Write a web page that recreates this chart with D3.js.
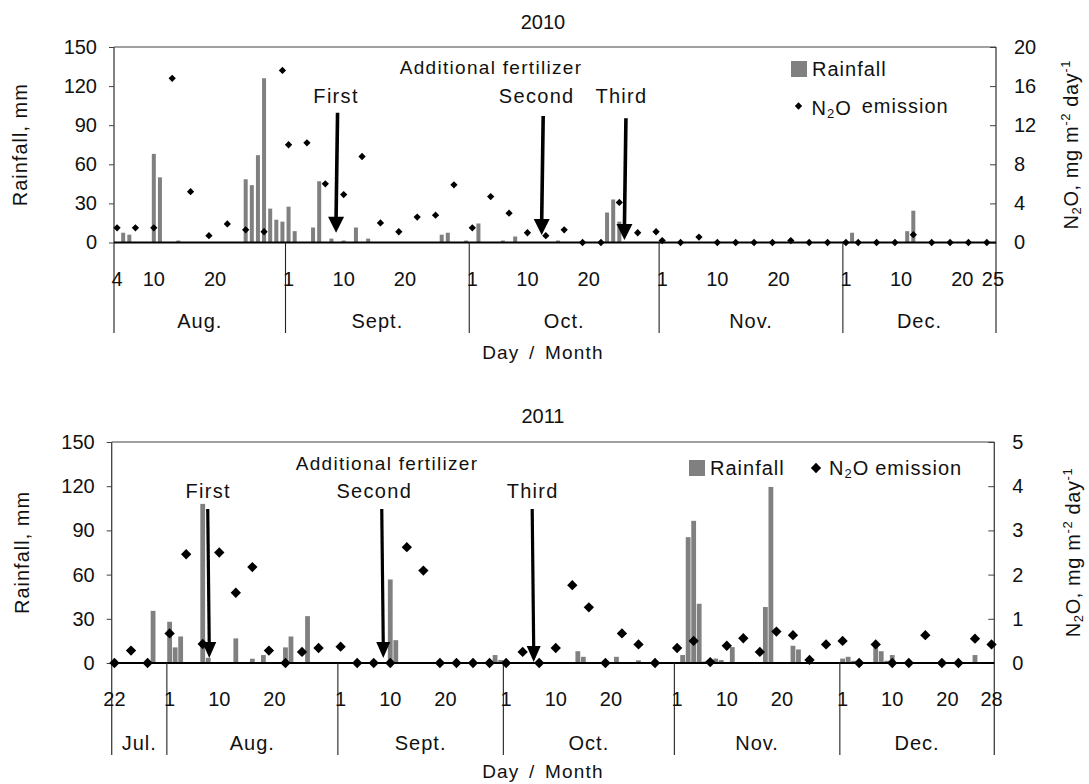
<!DOCTYPE html>
<html>
<head>
<meta charset="utf-8">
<script src="https://cdn.jsdelivr.net/npm/d3@7"></script>
<style>
  body { margin: 0; background: #fff; }
  svg text { font-family: 'Liberation Sans', Arial, sans-serif; fill: #111; }
</style>
</head>
<body>
<div id="chart"></div>
<script>
// ---- data ----
// 2010 rainfall (mm), by day
const rain2010Days = ['08-05','08-06','08-10','08-11','08-14','08-25','08-26','08-27','08-28','08-29','08-30','08-31',
  '09-01','09-02','09-05','09-06','09-08','09-10','09-12','09-14','09-26','09-27','09-30',
  '10-02','10-06','10-08','10-15','10-23','10-24','10-25','12-02','12-11','12-12'];
const rain2010 = [7.5,6,68,50,1.5,48.5,44,67,126,26,17.5,16,
  27.5,8.7,11.5,47,3,1.5,11.5,3,6,7.5,1.5,
  14.6,1.5,4.6,1.5,23,33,16,7.5,8.7,24.4];

// 2010 N2O emission (mg m-2 day-1)
const n2o2010Days = ['08-04','08-07','08-10','08-13','08-16','08-19','08-22','08-25','08-28','08-31',
  '09-01','09-04','09-07','09-10','09-13','09-16','09-19','09-22','09-25','09-28',
  '10-01','10-04','10-07','10-10','10-13','10-16','10-19','10-22','10-25','10-28','10-31',
  '11-01','11-04','11-07','11-10','11-13','11-16','11-19','11-22','11-25','11-28',
  '12-01','12-03','12-06','12-09','12-12','12-15','12-18','12-21','12-24'];
const n2o2010 = [1.5,1.5,1.5,16.8,5.2,0.7,1.9,1.3,1.1,17.6,
  10.0,10.2,6.0,4.9,8.8,2.0,1.1,2.6,2.8,5.9,
  1.5,4.7,3.0,1.0,0.7,1.3,0,0,4.1,1.0,1.1,
  0.2,0,0.55,0,0,0,0,0.2,0,0,
  0,0,0,0,0.8,0,0,0,0];

// 2011 rainfall (mm)
const rain2011Days = ['07-29','08-01','08-02','08-03','08-07','08-08','08-13','08-16','08-18','08-22','08-23','08-26',
  '09-10','09-11','09-29','09-30','10-14','10-15','10-21','10-25',
  '11-02','11-03','11-04','11-05','11-06','11-08','11-09','11-11','11-17','11-18','11-22','11-23',
  '12-01','12-02','12-03','12-07','12-08','12-09','12-10','12-25'];
const rain2011 = [35.4,28,10.6,18,108,3.5,16.7,2.9,5.4,10.6,18,31.8,
  56.7,15.5,5.4,2,8,4.2,4.2,1.8,
  5.4,85.4,96.5,40.2,1,3,2,10.8,38,119.5,11.7,9.2,
  3,4.2,1.5,13,8,1.5,5.4,5.4];

// 2011 N2O emission
const n2o2011Days = ['07-22','07-25','07-28','08-01','08-04','08-07','08-10','08-13','08-16','08-19','08-22','08-25','08-28',
  '09-01','09-04','09-07','09-10','09-13','09-16','09-19','09-22','09-25','09-28',
  '10-01','10-04','10-07','10-10','10-13','10-16','10-19','10-22','10-25','10-28',
  '11-01','11-04','11-07','11-10','11-13','11-16','11-19','11-22','11-25','11-28',
  '12-01','12-04','12-07','12-10','12-13','12-16','12-19','12-22','12-25','12-28'];
const n2o2011 = [0,0.28,0,0.67,2.46,0.43,2.5,1.59,2.17,0.28,0,0.25,0.34,
  0.37,0,0,0,2.62,2.09,0,0,0,0,
  0,0.25,0,0.34,1.76,1.26,0,0.67,0.42,0,
  0.34,0.5,0.02,0.39,0.56,0.25,0.71,0.63,0.07,0.42,
  0.5,0,0.42,0,0,0.63,0,0,0.55,0.42];

// axis ticks and labels
const rainTicks = [0, 30, 60, 90, 120, 150];
const n2oTicks2010 = [0, 4, 8, 12, 16, 20];
const n2oTicks2011 = [0, 1, 2, 3, 4, 5];
const dayTicks2010 = ['08-04','08-10','08-20','09-01','09-10','09-20','10-01','10-10','10-20','11-01','11-10','11-20','12-01','12-10','12-20','12-25'];
const dayTicks2011 = ['07-22','08-01','08-10','08-20','09-01','09-10','09-20','10-01','10-10','10-20','11-01','11-10','11-20','12-01','12-10','12-20','12-28'];
const monthNames = {'07':'Jul.','08':'Aug.','09':'Sept.','10':'Oct.','11':'Nov.','12':'Dec.'};
// fertilizer application days
const fert2010 = ['09-09','10-12','10-26'];
const fert2011 = ['08-08','09-09','10-06'];
const fertNames = ['First','Second','Third'];

const W = 1089, H = 784;
const svg = d3.select('#chart').append('svg').attr('width', W).attr('height', H);

const fmt = d3.timeFormat('%m-%d');
function dayList(year, from, to) {
  return d3.timeDay.range(new Date(year, from[0] - 1, from[1]), new Date(year, to[0] - 1, to[1] + 1)).map(fmt);
}

function drawPanel(p) {
  const days = dayList(p.year, p.from, p.to);
  const x = d3.scaleBand().domain(days).range([p.x0, p.x1]);
  const bw = x.bandwidth();
  const yL = d3.scaleLinear().domain([0, 150]).range([p.yZero, p.yTop]);
  const yR = d3.scaleLinear().domain([0, d3.max(p.n2oTicks)]).range([p.yZero, p.yTop]);
  const cx = d => x(d) + bw / 2;

  const g = svg.append('g');

  // title
  g.append('text').attr('x', 543).attr('y', p.titleY).attr('text-anchor', 'middle')
    .style('font-size', '20px').text(p.year);

  // frame: top border gray, side axes dark
  g.append('line').attr('x1', p.x0).attr('x2', p.x1).attr('y1', p.yTop).attr('y2', p.yTop)
    .attr('stroke', '#808080').attr('stroke-width', 1.5);
  g.append('line').attr('x1', p.x0).attr('x2', p.x0).attr('y1', p.yTop).attr('y2', p.lineBottom)
    .attr('stroke', '#404040').attr('stroke-width', 1.3);
  g.append('line').attr('x1', p.x1).attr('x2', p.x1).attr('y1', p.yTop).attr('y2', p.lineBottom)
    .attr('stroke', '#404040').attr('stroke-width', 1.3);

  // left axis
  const axL = g.append('g').attr('transform', `translate(${p.x0},0)`)
    .call(d3.axisLeft(yL).tickValues(rainTicks).tickSize(5).tickPadding(12));
  axL.select('.domain').remove();
  axL.selectAll('line').attr('stroke', '#404040');
  axL.selectAll('text').style('font-size', '20px').attr('fill', '#111');

  // right axis
  const axR = g.append('g').attr('transform', `translate(${p.x1},0)`)
    .call(d3.axisRight(yR).tickValues(p.n2oTicks).tickFormat(d3.format('d')).tickSize(-6).tickPadding(18));
  axR.select('.domain').remove();
  axR.selectAll('line').attr('stroke', '#404040');
  axR.selectAll('text').style('font-size', '20px').attr('fill', '#111');

  // axis titles
  g.append('text').attr('transform', `translate(${p.leftTitleX},${(p.yTop + p.yZero) / 2}) rotate(-90)`)
    .attr('text-anchor', 'middle').attr('dy', '0.35em')
    .style('font-size', '20px').style('letter-spacing', '1px').text('Rainfall, mm');

  const rt = g.append('text').attr('transform', `translate(${p.rightTitleX},${(p.yTop + p.yZero) / 2}) rotate(-90)`)
    .attr('text-anchor', 'middle').attr('dy', '0.35em')
    .style('font-size', '20px').style('letter-spacing', '0.6px');
  rt.append('tspan').text('N');
  rt.append('tspan').attr('baseline-shift', '-25%').style('font-size', '13px').text('2');
  rt.append('tspan').text('O, mg m');
  rt.append('tspan').attr('baseline-shift', '60%').style('font-size', '13px').text('-2');
  rt.append('tspan').text(' day');
  rt.append('tspan').attr('baseline-shift', '60%').style('font-size', '13px').text('-1');

  // rainfall bars
  g.selectAll('rect.rain').data(p.rainDays).join('rect').attr('class', 'rain')
    .attr('x', (d) => cx(d) - p.barW / 2)
    .attr('width', p.barW)
    .attr('y', (d, i) => yL(p.rain[i]))
    .attr('height', (d, i) => p.yZero - yL(p.rain[i]))
    .attr('fill', '#808080');

  // zero line
  g.append('line').attr('x1', p.x0).attr('x2', p.x1).attr('y1', p.yZero).attr('y2', p.yZero)
    .attr('stroke', '#000').attr('stroke-width', 1.8);

  // month dividers and labels
  const months = Array.from(new Set(days.map(d => d.slice(0, 2))));
  const bounds = months.map(m => x(days.find(d => d.slice(0, 2) === m)));
  bounds.push(p.x1);
  g.selectAll('line.div').data(bounds.slice(1, -1)).join('line').attr('class', 'div')
    .attr('x1', d => d).attr('x2', d => d).attr('y1', p.yZero).attr('y2', p.lineBottom)
    .attr('stroke', '#222').attr('stroke-width', 1.1);
  g.selectAll('text.month').data(months).join('text').attr('class', 'month')
    .attr('x', (m, i) => (bounds[i] + bounds[i + 1]) / 2).attr('y', p.monthY)
    .attr('text-anchor', 'middle').style('font-size', '20px').style('letter-spacing', '1px')
    .text(m => monthNames[m]);

  // day tick labels
  g.selectAll('text.day').data(p.dayTicks).join('text').attr('class', 'day')
    .attr('x', d => cx(d)).attr('y', p.dayY).attr('text-anchor', 'middle')
    .style('font-size', '20px').text(d => +d.slice(3));

  g.append('text').attr('x', 543).attr('y', p.dayMonthY).attr('text-anchor', 'middle')
    .style('font-size', '19px').style('letter-spacing', '1.2px').style('word-spacing', '3px').text('Day / Month');

  // N2O diamonds
  const sym = d3.symbol().type(d3.symbolDiamond2).size(p.markSize);
  g.selectAll('path.n2o').data(p.n2oDays).join('path').attr('class', 'n2o')
    .attr('d', sym)
    .attr('transform', (d, i) => `translate(${cx(d)},${yR(p.n2o[i])})`)
    .attr('fill', '#000');

  // fertilizer annotations
  g.append('text').attr('x', p.addX).attr('y', p.addY).attr('text-anchor', 'middle')
    .style('font-size', '19px').style('letter-spacing', '1.3px').text('Additional fertilizer');
  p.fert.forEach((d, i) => {
    const ax = cx(d) + p.arrowDx[i];
    g.append('text').attr('x', ax + p.labelDx[i]).attr('y', p.fertLabelY).attr('text-anchor', 'middle')
      .style('font-size', '20px').style('letter-spacing', '1.3px').text(fertNames[i]);
    const tipY = p.arrowTip[i];
    g.append('line').attr('x1', ax + p.arrowLean).attr('x2', ax).attr('y1', p.arrowTop[i]).attr('y2', tipY - p.headH + 2)
      .attr('stroke', '#000').attr('stroke-width', p.shaftW);
    g.append('path')
      .attr('d', `M${ax - p.headW / 2},${tipY - p.headH}L${ax + p.headW / 2},${tipY - p.headH}L${ax},${tipY}Z`)
      .attr('fill', '#000');
  });

  // legend
  const lg = g.append('g');
  lg.append('rect').attr('x', p.leg.sqX).attr('y', p.leg.sqY).attr('width', 16).attr('height', 16).attr('fill', '#808080');
  lg.append('text').attr('x', p.leg.sqX + 21).attr('y', p.leg.sqY + 8).attr('dy', '0.35em')
    .style('font-size', '20px').style('letter-spacing', '1px').text('Rainfall');
  lg.append('path').attr('d', sym).attr('transform', `translate(${p.leg.dX},${p.leg.dY})`).attr('fill', '#000');
  const lt = lg.append('text').attr('x', p.leg.dX + 13).attr('y', p.leg.dY + p.leg.nDy).attr('dy', '0.35em')
    .style('font-size', '20px').style('letter-spacing', '1px');
  lt.append('tspan').text('N');
  lt.append('tspan').attr('baseline-shift', '-25%').style('font-size', '13px').text('2');
  lt.append('tspan').text('O');
  lt.append('tspan').attr('dx', p.leg.gap).attr('dy', -p.leg.nDy).text('emission');
}

drawPanel({
  year: 2010, from: [8, 4], to: [12, 25],
  x0: 114, x1: 996, yTop: 47, yZero: 242.5, lineBottom: 333,
  titleY: 29, dayY: 286, monthY: 328, dayMonthY: 359,
  leftTitleX: 20, rightTitleX: 1071,
  barW: 4, markSize: 34,
  rainDays: rain2010Days, rain: rain2010, n2oDays: n2o2010Days, n2o: n2o2010, n2oTicks: n2oTicks2010,
  dayTicks: dayTicks2010,
  fert: fert2010, arrowDx: [-1.5, 2, -1], labelDx: [0, -5, -3], arrowLean: 1.5,
  arrowTop: [112.7, 116, 118.3], arrowTip: [232.7, 235, 240],
  fertLabelY: 102.5, addX: 491, addY: 73.5,
  headW: 16, headH: 16, shaftW: 3.6,
  leg: { sqX: 791, sqY: 61, dX: 798.5, dY: 106, nDy: 2, gap: 10 }
});

drawPanel({
  year: 2011, from: [7, 22], to: [12, 28],
  x0: 111.7, x1: 994.3, yTop: 442, yZero: 663, lineBottom: 755,
  titleY: 423, dayY: 706, monthY: 750, dayMonthY: 778,
  leftTitleX: 22, rightTitleX: 1073,
  barW: 4.8, markSize: 68,
  rainDays: rain2011Days, rain: rain2011, n2oDays: n2o2011Days, n2o: n2o2011, n2oTicks: n2oTicks2011,
  dayTicks: dayTicks2011,
  fert: fert2011, arrowDx: [1, -1.5, 0], labelDx: [-1, -9, -1], arrowLean: -1.5,
  arrowTop: [509, 509, 509], arrowTip: [658, 658, 662],
  fertLabelY: 497.5, addX: 387, addY: 470,
  headW: 14, headH: 16, shaftW: 3.2,
  leg: { sqX: 689, sqY: 460, dX: 816, dY: 468, nDy: 0, gap: 6 }
});
</script>
</body>
</html>
